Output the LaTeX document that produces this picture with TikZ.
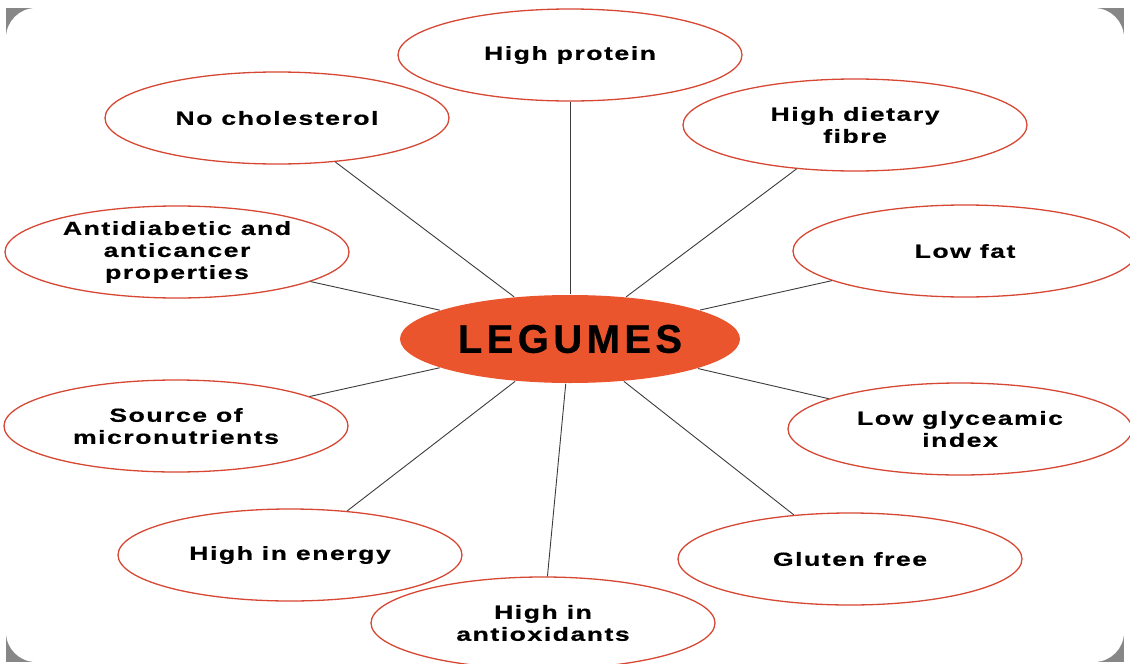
\documentclass[tikz,border=0pt]{standalone}
\usepackage{fontspec}
\usetikzlibrary{shapes.geometric}
\newfontfamily\labfont{Liberation Sans}[FakeStretch=1.4,LetterSpace=8,FakeBold=0.6]
\newfontfamily\legfont{Liberation Sans}[LetterSpace=11,FakeBold=0.6]
\definecolor{bordred}{RGB}{214,72,52}
\definecolor{legorange}{RGB}{234,85,45}
\definecolor{linegray}{RGB}{60,60,60}
\definecolor{cornergray}{RGB}{135,135,135}
\begin{document}
\begin{tikzpicture}[x=1pt,y=-1pt,
  bub/.style={ellipse, draw=bordred, line width=1.3pt, fill=white,
    minimum width=344pt, minimum height=92pt, inner sep=0pt},
  lab/.style={font=\labfont\bfseries\fontsize{19}{22}\selectfont,
    align=center, text=black, inner sep=0pt},
  conn/.style={draw=linegray, line width=0.9pt}]
\useasboundingbox (0,0) rectangle (1130,664);
\clip (0,0) rectangle (1130,664);
\fill[white] (0,0) rectangle (1130,664);
\fill[cornergray] (6,8) rectangle (1124,662);
\fill[white, rounded corners=30pt] (6,8) rectangle (1124,662);

\node[bub, fill=legorange, draw=none, minimum width=340pt, minimum height=88pt,
  font=\legfont\bfseries\fontsize{40}{44}\selectfont] (leg) at (570,339) {LEGUMES};

\node[bub, label={[lab]center:High protein}] (hp) at (570,55) {};
\node[bub, label={[lab]center:No cholesterol}] (nc) at (277,118) {};
\node[bub, label={[lab]center:{High dietary\\fibre}}] (hdf) at (855,125) {};
\node[bub, label={[lab]center:{Antidiabetic and\\anticancer\\properties}}] (ad) at (177,252) {};
\node[bub, label={[lab]center:Low fat}] (lf) at (965,251) {};
\node[bub, label={[lab]center:{Source of\\micronutrients}}] (sm) at (176,426) {};
\node[bub, label={[lab]center:{Low glyceamic\\index}}] (lgi) at (960,429) {};
\node[bub, label={[lab]center:High in energy}] (he) at (290,555) {};
\node[bub, label={[lab]center:Gluten free}] (gf) at (850,559) {};
\node[bub, label={[lab]center:{High in\\antioxidants}}] (ha) at (543,623) {};

\foreach \n in {hp,nc,hdf,ad,lf,sm,lgi,he,gf,ha}
  \draw[conn] (\n) -- (leg);
\end{tikzpicture}
\end{document}
